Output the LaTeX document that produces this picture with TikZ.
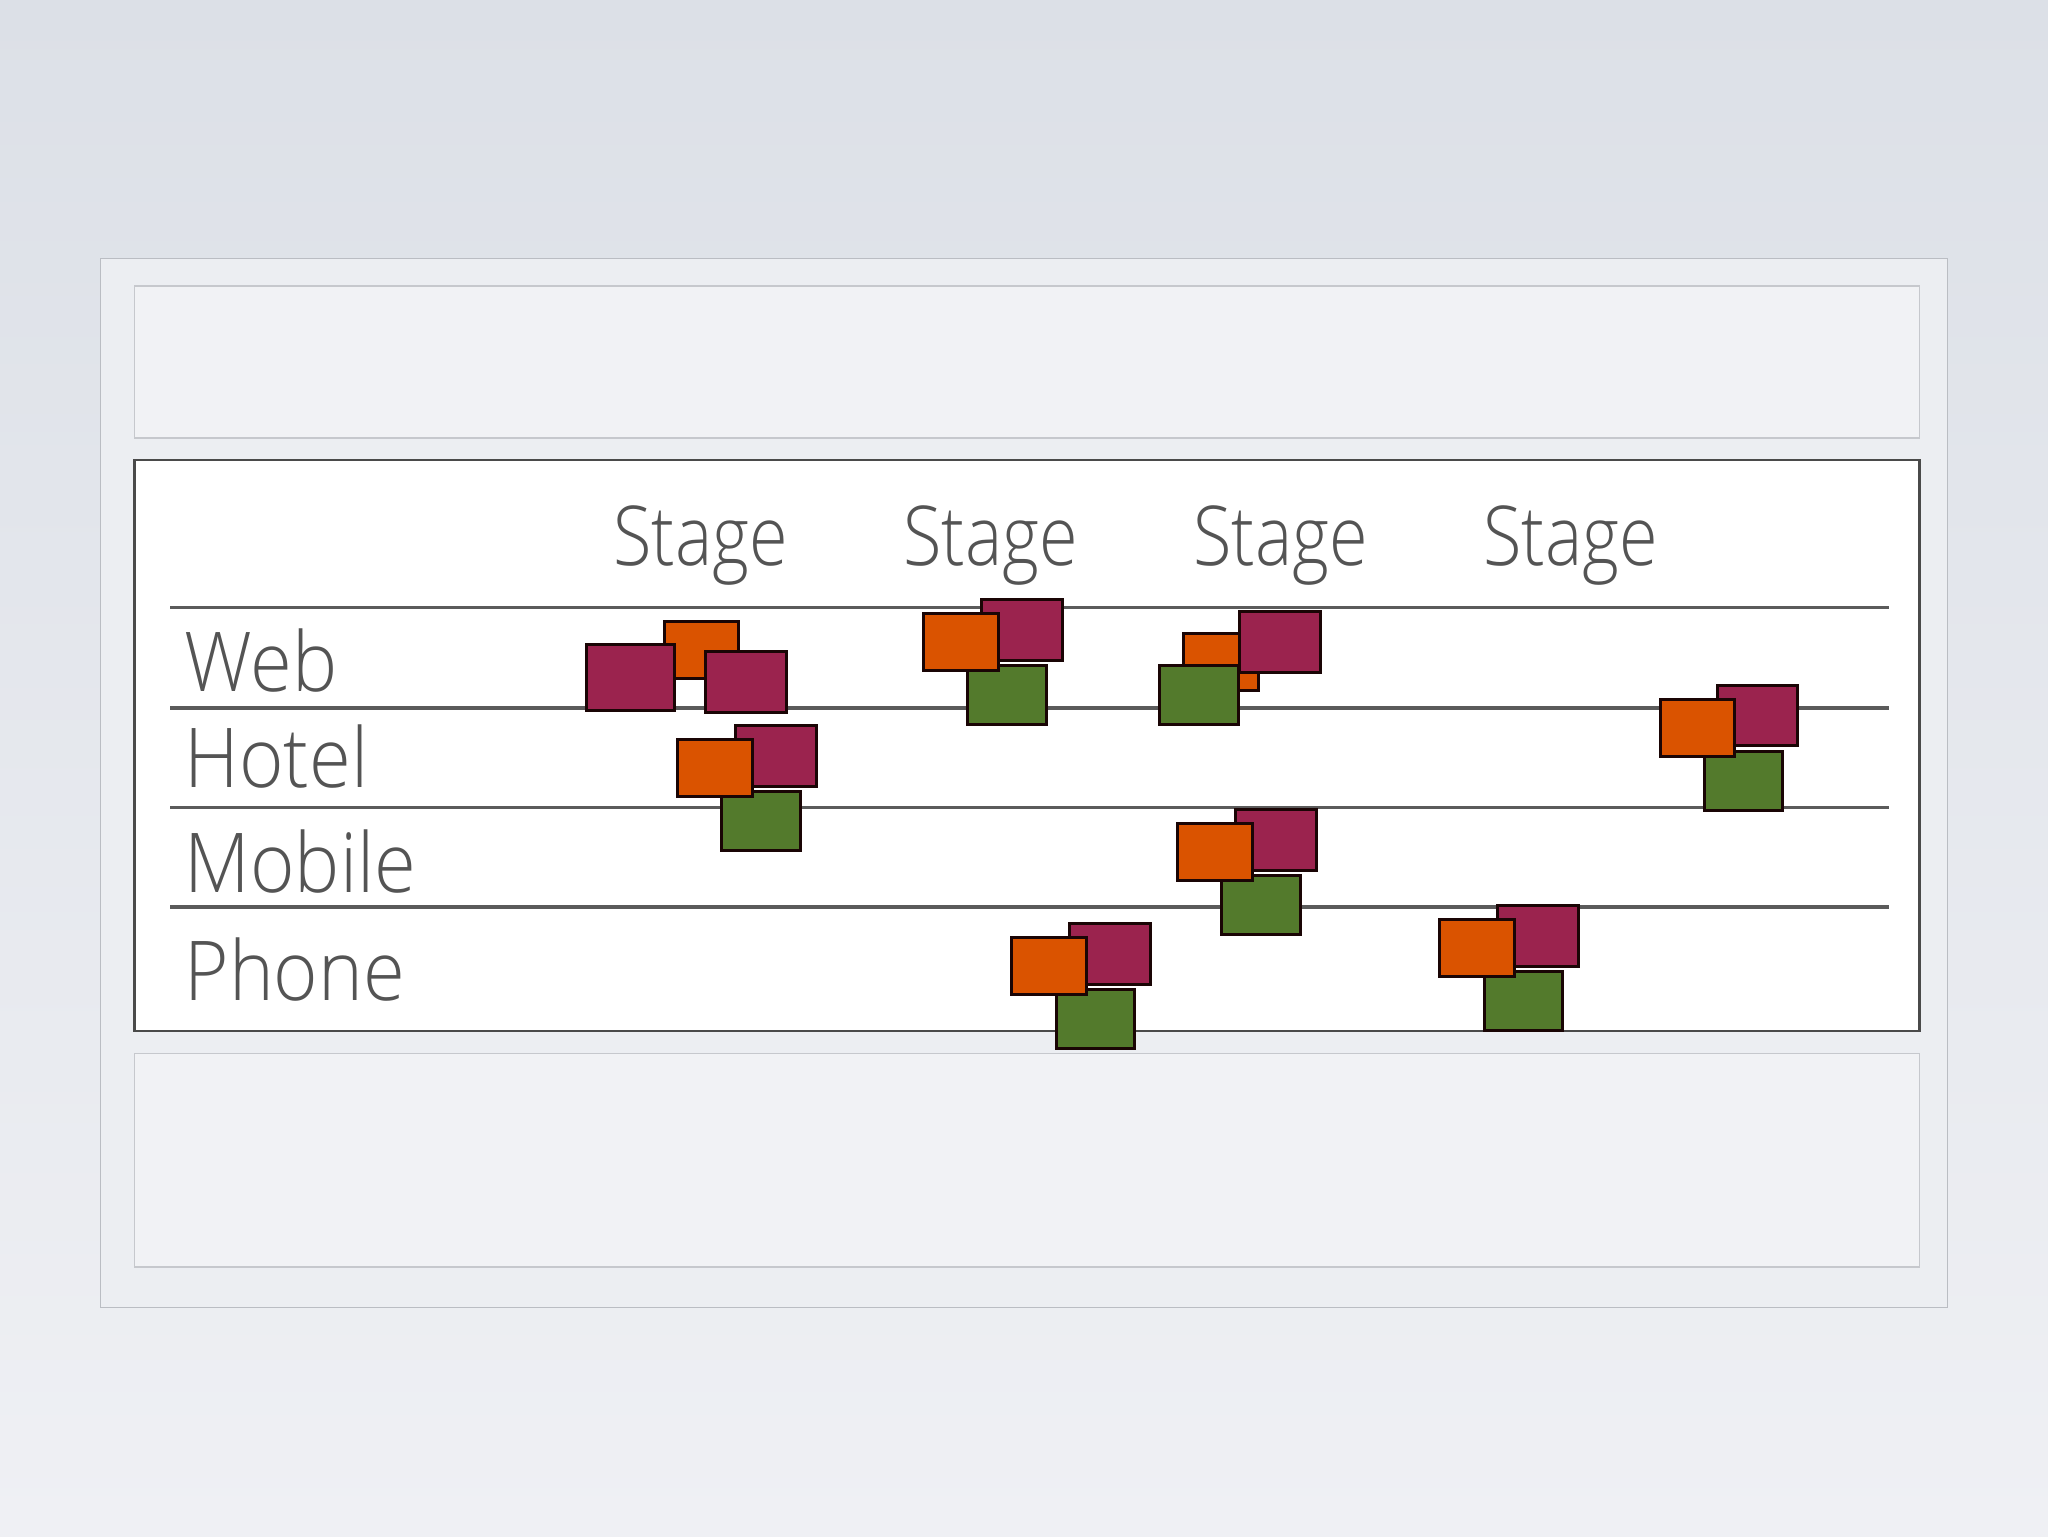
\documentclass[tikz,border=0pt]{standalone}
\usepackage{fontspec}
\setmainfont{Open Sans Light}[FakeStretch=0.85]
\newfontfamily\rowfont{Open Sans Light}[FakeStretch=0.92]
\definecolor{bgtop}{HTML}{DCE0E7}
\definecolor{bgbot}{HTML}{EFF0F4}
\definecolor{framefill}{HTML}{ECEEF2}
\definecolor{frameline}{HTML}{BABDC3}
\definecolor{boxfill}{HTML}{F1F2F5}
\definecolor{boxline}{HTML}{C6C8CD}
\definecolor{mainline}{HTML}{4A4A4A}
\definecolor{rowline}{HTML}{5B5B5B}
\definecolor{txt}{HTML}{545454}
\definecolor{maroon}{HTML}{9B234E}
\definecolor{orng}{HTML}{DA5300}
\definecolor{grn}{HTML}{537A2C}
\definecolor{edge}{HTML}{1A0505}
\tikzset{
  card/.style={draw=edge, line width=0.85pt, inner sep=0pt, outer sep=0pt, anchor=north west},
  mcard/.style={card, fill=maroon, minimum width=8.06mm, minimum height=6.03mm},
  bigmcard/.style={card, fill=maroon, minimum width=8.83mm, minimum height=6.6mm},
  ocard/.style={card, fill=orng, minimum width=7.46mm, minimum height=5.66mm},
  gcard/.style={card, fill=grn, minimum width=7.86mm, minimum height=5.83mm},
  lbl/.style={text=txt, inner sep=0pt, font=\fontsize{23.5}{28}\selectfont},
  rowlabel/.style={lbl, anchor=base west, font=\rowfont\fontsize{23.5}{28}\selectfont},
  stagelabel/.style={lbl, anchor=base},
  rowrule/.style={draw=rowline, line width=1pt}
}
\begin{document}
\begin{tikzpicture}[x=0.1mm,y=-0.1mm]
\useasboundingbox (0,0) rectangle (2048,1536);
\shade[top color=bgtop, bottom color=bgbot] (0,0) rectangle (2048,1536);
% frame and boxes
\draw[draw=frameline, fill=framefill, line width=0.5pt] (100.6,258.6) rectangle (1947.4,1307.4);
\draw[draw=boxline, fill=boxfill, line width=0.5pt] (134.5,286) rectangle (1919.5,438);
\draw[draw=mainline, fill=white, line width=0.6pt] (134.5,459.8) rectangle (1919.5,1031.3);
\draw[draw=boxline, fill=boxfill, line width=0.5pt] (134.5,1053.5) rectangle (1919.5,1267);
% row rules
\foreach \i/\y in {0/607.3,1/707.8,2/807.4,3/907.0}{
  \coordinate (rl\i) at (170,\y);
  \coordinate (rr\i) at (1888.7,\y);
  \draw[rowrule] (rl\i) -- (rr\i);
}
% headers
\node[stagelabel] (s1) at (700.7,565) {Stage};
\node[stagelabel] (s2) at (990.7,565) {Stage};
\node[stagelabel] (s3) at (1280.6,565) {Stage};
\node[stagelabel] (s4) at (1570.6,565) {Stage};
% row labels
\node[rowlabel] (web) at (184,691) {Web};
\node[rowlabel] (hotel) at (184,787.6) {Hotel};
\node[rowlabel] (mobile) at (184,892) {Mobile};
\node[rowlabel] (phone) at (184,1000.5) {Phone};
% Web, stage 1
\node[ocard] (w1o) at (664,621.7) {};
\node[bigmcard] (w1m) at (586,644) {};
\node[mcard] (w1n) at (705.7,651.7) {};
% Hotel, stage 1
\node[mcard] (h1m) at (735.7,725.7) {};
\node[gcard] (h1g) at (721.7,791.7) {};
\node[ocard] (h1o) at (677.7,739.7) {};
% Web, stage 2
\node[mcard] (w2m) at (981.7,599.7) {};
\node[gcard] (w2g) at (967.7,665.7) {};
\node[ocard] (w2o) at (923.7,613.7) {};
% Web, stage 3
\node[ocard] (w3o) at (1183.7,633.7) {};
\node[mcard] (w3m) at (1239.7,611.7) {};
\node[gcard] (w3g) at (1159.7,665.7) {};
% Hotel, stage 4
\node[mcard] (h4m) at (1717.3,685.3) {};
\node[gcard] (h4g) at (1704,751.7) {};
\node[ocard] (h4o) at (1660,699.7) {};
% Mobile, stage 3
\node[mcard] (m3m) at (1235.6,809.7) {};
\node[gcard] (m3g) at (1221.9,875.7) {};
\node[ocard] (m3o) at (1177.5,823.7) {};
% Phone, stage 2
\node[mcard] (p2m) at (1069.9,923.7) {};
\node[gcard] (p2g) at (1056.2,989.7) {};
\node[ocard] (p2o) at (1011.8,937.7) {};
% Phone, stage 4
\node[mcard] (p4m) at (1497.8,905.7) {};
\node[gcard] (p4g) at (1484,971.7) {};
\node[ocard] (p4o) at (1439.6,919.7) {};
\end{tikzpicture}
\end{document}
